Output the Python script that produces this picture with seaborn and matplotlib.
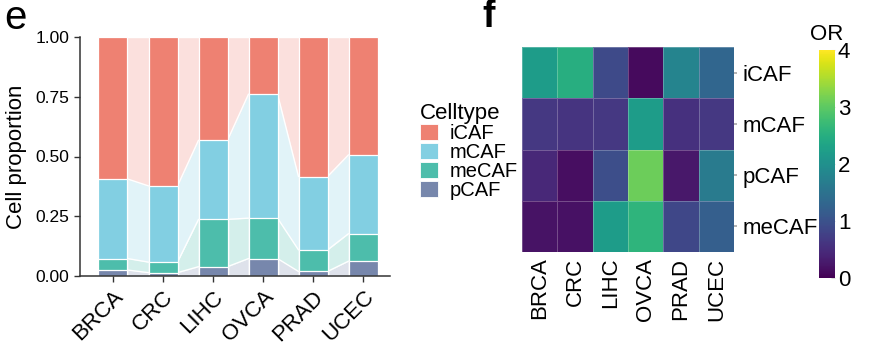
import numpy as np
import pandas as pd
import matplotlib
matplotlib.use("Agg")
import matplotlib.pyplot as plt
import matplotlib.colors as mcolors
from matplotlib.patches import Patch
import seaborn as sns

# ---------------- data ----------------
cancers = ["BRCA", "CRC", "LIHC", "OVCA", "PRAD", "UCEC"]
celltypes = ["iCAF", "mCAF", "meCAF", "pCAF"]
prop_pCAF = [0.025, 0.014, 0.039, 0.073, 0.019, 0.062]
prop_meCAF = [0.048, 0.044, 0.198, 0.169, 0.090, 0.115]
prop_mCAF = [0.333, 0.319, 0.331, 0.519, 0.307, 0.330]
prop_iCAF = [0.594, 0.623, 0.432, 0.239, 0.584, 0.493]

heat_rows = ["iCAF", "mCAF", "pCAF", "meCAF"]
or_iCAF = [2.2, 2.5, 0.9, 0.1, 1.8, 1.3]
or_mCAF = [0.65, 0.6, 0.65, 2.2, 0.55, 0.65]
or_pCAF = [0.45, 0.15, 0.95, 3.1, 0.25, 1.65]
or_meCAF = [0.2, 0.18, 2.2, 2.6, 0.85, 1.2]
cbar_ticks = [0, 1, 2, 3, 4]
ytick_vals = [0.0, 0.25, 0.5, 0.75, 1.0]

# ---------------- style ----------------
sns.set_theme(style="ticks")
plt.rcParams["font.family"] = ["Liberation Sans", "DejaVu Sans"]
plt.rcParams["text.color"] = "black"
plt.rcParams["axes.labelcolor"] = "black"
plt.rcParams["xtick.color"] = "#333333"
plt.rcParams["ytick.color"] = "#333333"
plt.rcParams["xtick.labelcolor"] = "black"
plt.rcParams["ytick.labelcolor"] = "black"

base = {"iCAF": "#E64B35", "mCAF": "#4DBBD5", "meCAF": "#00A087", "pCAF": "#3C5488"}


def blend(c, a):
    r = np.array(mcolors.to_rgb(c))
    return tuple(a * r + (1 - a) * np.ones(3))


bar_col = {k: blend(v, 0.7) for k, v in base.items()}
flow_col = {k: blend(v, 0.17) for k, v in base.items()}

fig = plt.figure(figsize=(8.95, 3.48), dpi=100)

# ---------------- panel e ----------------
ax = fig.add_axes([80 / 895, 72 / 348, 310 / 895, 239 / 348])
props = {"pCAF": prop_pCAF, "meCAF": prop_meCAF, "mCAF": prop_mCAF, "iCAF": prop_iCAF}
stack_order = ["pCAF", "meCAF", "mCAF", "iCAF"]
cum = {}
running = np.zeros(len(cancers))
for ct in stack_order:
    lower = running.copy()
    running = running + np.array(props[ct])
    cum[ct] = (lower, running.copy())

bw = 0.58
# flows between bars
for ct in stack_order:
    lo, hi = cum[ct]
    for i in range(len(cancers) - 1):
        xs = [i + bw / 2, i + 1 - bw / 2]
        ax.fill_between(xs, [lo[i], lo[i + 1]], [hi[i], hi[i + 1]],
                        color=flow_col[ct], linewidth=0, zorder=0.5)
        ax.plot(xs, [hi[i], hi[i + 1]], color="white", lw=1.0, zorder=0.6)

# stacked bars (draw top cumulative first)
for ct in reversed(stack_order):
    df = pd.DataFrame({"cancer": cancers, "top": cum[ct][1]})
    sns.barplot(data=df, x="cancer", y="top", color=bar_col[ct], saturation=1,
                width=bw, edgecolor="white", linewidth=0.9, ax=ax, zorder=2)

ax.set_xlim(-0.66, 5.54)
ax.set_ylim(0, 1.0)
ax.set_yticks(ytick_vals)
ax.set_yticklabels([f"{v:.2f}" for v in ytick_vals], fontsize=12.5)
ax.set_xlabel("")
ax.set_ylabel("Cell proportion", fontsize=16, labelpad=6)
ax.tick_params(axis="x", labelsize=16, length=4, width=1)
ax.tick_params(axis="y", length=4, width=1)
plt.setp(ax.get_xticklabels(), rotation=45, ha="right", rotation_mode="anchor")
for s in ["top", "right"]:
    ax.spines[s].set_visible(False)
for s in ["left", "bottom"]:
    ax.spines[s].set_color("#333333")
    ax.spines[s].set_linewidth(1.1)

# legend
handles = [Patch(facecolor=bar_col[c], edgecolor="white", linewidth=0.6, label=c)
           for c in celltypes]
fig.legend(handles=handles, title="Celltype", loc="upper left",
           bbox_to_anchor=(410 / 895, 1 - 93 / 348), frameon=False,
           fontsize=14.5, title_fontsize=16, borderpad=0, labelspacing=0.0,
           handlelength=0.9, handleheight=0.85, handletextpad=0.55,
           alignment="left")

# ---------------- panel f ----------------
hax = fig.add_axes([522 / 895, 96 / 348, 212 / 895, 205 / 348])
cax = fig.add_axes([819 / 895, 70 / 348, 16 / 895, 228 / 348])
mat = pd.DataFrame([or_iCAF, or_mCAF, or_pCAF, or_meCAF], index=heat_rows, columns=cancers)
sns.heatmap(mat, cmap="viridis", vmin=0, vmax=4, ax=hax, cbar_ax=cax,
            linewidths=0.4, linecolor=(1, 1, 1, 0.25),
            cbar_kws={"ticks": cbar_ticks})
hax.yaxis.tick_right()
hax.set_xlabel("")
hax.set_ylabel("")
hax.tick_params(axis="x", labelsize=16, length=0, pad=4)
hax.tick_params(axis="y", labelsize=16, length=2, pad=4, color="#aaaaaa")
plt.setp(hax.get_xticklabels(), rotation=90)
plt.setp(hax.get_yticklabels(), rotation=0)

cbar = hax.collections[0].colorbar
cbar.outline.set_visible(False)
cax.tick_params(labelsize=16, length=3, width=0.8, color="#dddddd", direction="in", pad=2)
cax.set_yticklabels([str(t) for t in cbar_ticks])
cax.set_title("OR", fontsize=16, pad=7)

# panel letters
fig.text(4 / 895, 1 - 29 / 348, "e", fontsize=29, va="baseline", ha="left")
fig.text(482 / 895, 1 - 27 / 348, "f", fontsize=27, va="baseline", ha="left",
         fontweight="bold")

fig.savefig("out.png", dpi=100)
